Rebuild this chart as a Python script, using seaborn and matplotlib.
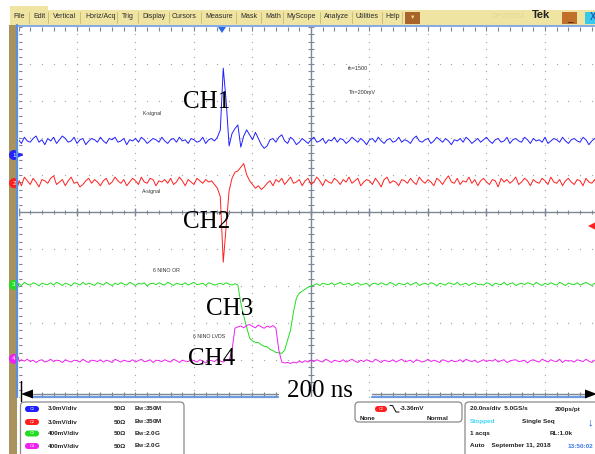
import numpy as np
import matplotlib.pyplot as plt
import seaborn as sns
from matplotlib.patches import Rectangle, FancyBboxPatch, Circle, Polygon

# ==========================================================
# DATA  (one sample per ns)
# ==========================================================
time_ns = list(range(0, 201))

# CH1 K-signal, mV
ch1_mv = [
    0.1, -0.2, 0.3, 0.0, -0.1, 0.2, 0.4, -0.1, 0.1, -0.3,
    0.2, 0.0, 0.3, -0.2, 0.1, 0.4, 0.2, -0.1, 0.0, 0.3,
    -0.2, 0.1, 0.2, -0.3, 0.0, 0.2, 0.1, -0.1, 0.3, 0.0,
    -0.2, 0.2, 0.1, 0.3, -0.1, 0.0, 0.2, -0.3, 0.1, 0.0,
    0.2, -0.1, 0.3, 0.1, -0.2, 0.0, 0.2, 0.1, -0.1, 0.3,
    0.0, -0.2, 0.1, 0.2, -0.1, 0.3, 0.0, 0.1, -0.2, 0.2,
    0.1, -0.1, 0.0, 0.3, -0.2, 0.1, 0.2, 0.0,
    0.3, 0.9, 5.9, 3.2, -0.4, 0.6, 1.0, 1.3, -0.5, 0.4, 0.9, 0.5,
    0.1, 0.7, 0.2, -0.3, -0.6, -0.4, 0.1, 0.2, -0.1, 0.3,
    0.5, 0.0, -0.2, 0.3, 0.1, -0.3, -0.1, 0.2, 0.0, -0.2,
    0.1, 0.3, -0.1, 0.0, 0.2, -0.2, 0.1, 0.0, 0.3, -0.1,
    0.2, 0.1, -0.2, 0.0, 0.3, 0.1, -0.1, 0.2, 0.0, -0.3,
    0.1, 0.2, -0.1, 0.3, 0.0, -0.2, 0.1, 0.2, -0.1, 0.0,
    0.3, -0.1, 0.1, 0.0, -0.2, 0.2, 0.4, 0.0, -0.1, 0.1,
    0.2, -0.2, 0.0, 0.3, 0.1, -0.1, 0.2, 0.0, -0.3, 0.1,
    0.0, 0.2, -0.1, 0.3, 0.1, -0.2, 0.0, 0.2, -0.1, 0.1,
    0.3, 0.0, -0.2, 0.1, 0.2, -0.1, 0.0, 0.3, -0.2, 0.1,
    0.2, 0.0, -0.1, 0.3, 0.1, -0.2, 0.2, 0.0, 0.1, -0.1,
    0.3, -0.2, 0.0, 0.2, 0.1, -0.1, 0.3, 0.0, -0.2, 0.1,
    0.2, 0.0, -0.1, 0.3, 0.1, -0.3, 0.0, 0.2, -0.1, 0.1,
    0.0,
]

# CH2 A-signal, mV
ch2_mv = [
    0.2, -0.3, 0.4, 0.1, -0.2, 0.3, 0.0, -0.4, 0.2, 0.1,
    -0.1, 0.3, 0.5, -0.2, 0.0, 0.2, -0.3, 0.1, 0.4, -0.1,
    0.0, -0.4, -0.2, 0.1, 0.3, -0.1, 0.2, 0.0, -0.3, 0.1,
    0.3, -0.2, 0.0, 0.4, 0.1, -0.1, 0.2, -0.3, 0.0, 0.3,
    0.1, -0.2, 0.4, 0.0, -0.1, 0.3, 0.2, -0.3, 0.1, 0.0,
    0.2, -0.1, 0.3, -0.2, 0.0, 0.4, 0.1, -0.3, 0.2, 0.0,
    -0.2, 0.3, 0.1, -0.1, 0.2, 0.0, 0.1, -0.2,
    -0.5, -1.2, -6.5, -3.6, -0.7, 0.3, 0.8, 0.9, 1.2, 1.5, 0.6, 0.1,
    -0.2, -0.5, -0.3, -0.6, -0.4, -0.1, 0.1, -0.3, 0.2, 0.0,
    0.3, -0.2, 0.1, 0.4, -0.1, 0.0, 0.2, -0.3, 0.1, 0.3,
    -0.2, 0.0, 0.4, 0.1, -0.3, 0.2, 0.0, -0.1, 0.3, 0.1,
    -0.2, 0.2, 0.0, 0.4, -0.1, 0.1, 0.3, -0.3, 0.0, 0.2,
    0.1, -0.2, 0.3, 0.0, -0.4, 0.2, 0.4, -0.1, 0.1, 0.0,
    -0.3, 0.2, 0.1, -0.1, 0.3, 0.0, -0.2, 0.4, 0.1, -0.1,
    0.2, 0.0, -0.3, 0.3, 0.1, -0.2, 0.2, 0.5, 0.0, -0.1,
    0.3, -0.2, 0.1, 0.0, 0.4, -0.1, 0.2, -0.3, 0.1, 0.3,
    0.0, -0.2, 0.2, 0.1, -0.4, 0.3, 0.0, 0.2, -0.1, 0.1,
    0.4, -0.2, 0.0, 0.3, 0.1, -0.3, 0.2, 0.0, -0.1, 0.3,
    0.1, -0.2, 0.4, 0.0, -0.1, 0.2, -0.3, 0.1, 0.3, 0.0,
    -0.2, 0.2, 0.1, -0.3, 0.3, 0.0, -0.1, 0.2, -0.4, 0.1,
    0.0,
]

# CH3 6 NINO OR, mV
ch3_mv = [
    10, -15, 20, 0, -10, 15, 5, -20, 10, 0,
    -5, 15, -10, 20, 5, -15, 10, 0, -20, 15,
    5, -10, 20, -5, 10, 0, -15, 15, 5, -10,
    20, 0, -15, 10, -5, 15, 0, -10, 20, 5,
    -15, 10, 0, 15, -20, 5, 10, -5, 15, 0,
    -10, 20, 5, -15, 10, 0, -5, 15, -10, 5,
    20, -5, 0, 10, -15, 15, 5, -10, 0, 10,
    -5, 15, 0, -10, 5,
    -10, -205, -345, -465, -583, -615, -630, -632, -655, -672,
    -676, -705, -720, -738, -742, -748, -713, -605, -497, -302,
    -151, -97, -76, -54, -32, -22,
    -10, 5, -15, 10, 0, -5, 15, -10, 5,
    20, -5, 0, 10, -15, 5, 15, -10, 0, 10,
    -20, 5, 10, -5, 15, 0, -10, 20, 5, -15,
    10, 0, -5, 15, -10, 5, 20, -15, 0, 10,
    -5, 15, 5, -20, 10, 0, -10, 15, 5, -5,
    20, -10, 0, 10, -15, 5, 15, -5, 0, -10,
    15, 5, -20, 10, 0, -5, 20, -10, 5, 15,
    -15, 0, 10, -5, 15, 5, -10, 20, 0, -15,
    10, -5, 15, 0, -10, 20, 5, -15, 10, 0,
    -5, 15, -10, 5, 20, 0, -15, 10, -5, 15,
    0,
]

# CH4 6 NINO LVDS, mV
ch4_mv = [
    -10, 15, 0, 20, -5, 10, -15, 5, 15, -10,
    0, 20, -5, 10, 5, -15, 15, 0, -10, 10,
    5, -10, 20, 0, -15, 10, 5, -5, 15, -10,
    10, 0, -15, 20, 5, -10, 10, 0, -5, 15,
    -10, 5, 20, -5, 0, 15, -15, 10, 5, -5,
    15, 0, -10, 20, 5, -15, 10, 0, -5, 15,
    5, -10, 15, 0, -20, 10, 5, -5, 20, 0,
    -10, 10, 5,
    120, 356, 370, 380, 360, 385, 395, 375, 360, 390,
    370, 355, 380, 365, 385, 356, 119, -10, -20,
    -15, -25, -10, -20, 0, -15, 5, -10,
    10, -5, 15, 0, -10, 20, 5, -15, 10, 0,
    -5, 15, -10, 5, 20, 0, -15, 10, -5, 15,
    0, -10, 20, 5, -15, 10, 0, -5, 15, -10,
    5, 20, -5, 0, 10, -15, 15, 5, -10, 0,
    20, -5, 10, 0, -15, 15, 5, -10, 10, -5,
    0, 15, -10, 20, 5, -5, 10, -15, 0, 15,
    -5, 10, 0, 20, -10, 5, 15, -15, 0, 10,
    15, -5, 0, 10, -20, 5, 15, 0, -10, 20,
    5, -10, 15, 0, -5, 20, -15, 10, 0, 5,
    -10, 15, 5, -5, 20, 0, -15, 10, 5, -10,
    0,
]

channel_names = ["CH1", "CH2", "CH3", "CH4"]
channel_signals = ["K-signal", "A-signal", "6 NINO OR", "6 NINO LVDS"]
volts_per_div = ["3.0mV/div", "3.0mV/div", "400mV/div", "400mV/div"]
mv_per_div = [3.0, 3.0, 400.0, 400.0]
bandwidth = ["350M", "350M", "2.0G", "2.0G"]
menu_items = ["File", "Edit", "Vertical", "Horiz/Acq", "Trig", "Display", "Cursors",
              "Measure", "Mask", "Math", "MyScope", "Analyze", "Utilities", "Help"]

# ==========================================================
# STYLE / LAYOUT
# ==========================================================
colors = ["#1f1fff", "#ff1f1f", "#22dd22", "#f020f0"]
pos_div = [1.92, 0.81, -1.95, -4.03]          # trace baseline position
marker_div = [1.54, 0.78, -1.97, -3.97]       # ground marker position
label_xy = [(143, 114), (142, 191), (153, 270), (193, 337)]
ch_text_xy = [(183, 108), (183, 228), (206, 315), (188, 365)]
menu_x = [13, 33, 53, 85, 122, 142, 172, 205, 240, 265, 286, 324, 355, 385]
menu_sep = [29, 48, 80, 117, 138, 169, 201, 236, 261, 283, 320, 352, 382, 402]

W, H = 595, 454
PX_NS = 2.925       # pixels per ns
PX_DIV = 37.0       # pixels per vertical div
X0, YTOP, YBOT = 18.5, 27, 397

sns.set_style("white")
plt.rcParams["font.family"] = ["Liberation Sans", "DejaVu Sans"]

fig = plt.figure(figsize=(W / 100, H / 100), dpi=100)

# ----------------------------------------------------------
# graticule axes (x in ns, y in divisions)
# ----------------------------------------------------------
ax = fig.add_axes([X0 / W, (H - YBOT) / H, (W - X0) / W, (YBOT - YTOP) / H])

grid_c = "#a8a8a8"
xs_minor = np.arange(0, 201, 4)
ys_minor = np.arange(-5, 5.01, 0.2)
for k in range(11):
    if k != 5:
        ax.scatter(np.full(len(ys_minor), 20 * k), ys_minor, s=0.9, color=grid_c, linewidths=0)
for k in range(-4, 5):
    if k != 0:
        ax.scatter(xs_minor, np.full(len(xs_minor), k), s=0.9, color=grid_c, linewidths=0)

cross_c = "#7d8796"
ax.axhline(0, color=cross_c, lw=1.0)
ax.axvline(100, color=cross_c, lw=1.0)
ax.vlines(xs_minor, -0.06, 0.06, color=cross_c, lw=0.8)
ax.vlines(xs_minor[::5], -0.1, 0.1, color=cross_c, lw=1.0)
ax.hlines(ys_minor, 100 - 0.9, 100 + 0.9, color=cross_c, lw=0.8)
ax.vlines(xs_minor, 4.9, 5.0, color=cross_c, lw=0.8)
ax.hlines(ys_minor, 0, 1.1, color=cross_c, lw=0.8)

# traces
for mv, scale, pos, col in zip([ch1_mv, ch2_mv, ch3_mv, ch4_mv], mv_per_div, pos_div, colors):
    y = pos + np.array(mv) / scale
    sns.lineplot(x=time_ns, y=y, ax=ax, color=col, linewidth=0.7,
                 estimator=None, sort=False, legend=False)
ax.set_xlim(0, (W - X0) / PX_NS)
ax.set_ylim(-5, 5)
ax.set_axis_off()

# bottom time ruler
ruler_y = (212 - 394) / PX_DIV
for a, b in [(5.0, 88.7), (121.0, 193.7)]:
    ax.plot([a, b], [ruler_y, ruler_y], color="#7f8690", lw=1.0, clip_on=False)
    ax.plot([a, b], [-5.0, -5.0], color="#6c9be0", lw=1.6, clip_on=False)
    ticks = [t for t in xs_minor if a <= t <= b]
    ax.vlines(ticks, ruler_y - 0.05, ruler_y + 0.05, color="#7f8690", lw=0.8, clip_on=False)

# ----------------------------------------------------------
# overlay in pixel coordinates
# ----------------------------------------------------------
ov = fig.add_axes([0, 0, 1, 1], zorder=5)
ov.set_xlim(0, W)
ov.set_ylim(H, 0)
ov.set_axis_off()
ov.patch.set_alpha(0)

# menu bar
ov.add_patch(Rectangle((10, 10), W - 10, 15, color="#efe4a2", lw=0))
ov.add_patch(Rectangle((10, 6), 38, 5, color="#efe4a2", lw=0))
for sx in menu_sep:
    ov.plot([sx, sx], [12, 23], color="#c9b86c", lw=0.6)
for mx, name in zip(menu_x, menu_items):
    ov.text(mx, 16, name, fontsize=5, color="#2a2a2a", va="center", ha="left")
ov.add_patch(Rectangle((405, 11.5), 15, 12, color="#a8642a", lw=0))
ov.text(412.5, 17, "▼", fontsize=4, color="#f4e080", ha="center", va="center")
ov.text(508, 16, "DPO5204", fontsize=5.5, color="#e6d896", ha="center", va="center")
ov.text(541, 15.5, "Tek", fontsize=8, fontweight="bold", color="#222", ha="center", va="center")
ov.add_patch(Rectangle((562, 11.5), 15, 12, color="#c0702a", lw=0))
ov.text(569.5, 18, "_", fontsize=7, color="#222", ha="center", va="center")
ov.add_patch(Rectangle((585, 11.5), 12, 12, color="#38c8ea", lw=0))
ov.text(590, 17, "X", fontsize=7, color="#1a3a9a", ha="left", va="center")
ov.plot([16, W], [25.5, 25.5], color="#6c9be0", lw=1.2)

# left frame
ov.add_patch(Rectangle((9, 25), 7.5, H - 25, color="#a8925e", lw=0))
ov.plot([17.3, 17.3], [25, YBOT], color="#5a8fe0", lw=1.6)

# channel ground markers
for i, (md, col) in enumerate(zip(marker_div, colors)):
    py = 212 - md * PX_DIV
    ov.add_patch(Circle((14, py), 5, color=col, lw=0))
    ov.text(14, py, str(i + 1), fontsize=4.5, color="white", ha="center", va="center")
ov.annotate("", xy=(26, 155), xytext=(19, 155),
            arrowprops=dict(arrowstyle="-|>", color=colors[0], lw=0.8, mutation_scale=5))

# trigger markers
ov.add_patch(Polygon([(218, 27), (226, 27), (222, 33)], color="#2a6ae8", lw=0))
ov.add_patch(Polygon([(588, 226), (596, 222), (596, 230)], color="#ff2020", lw=0))

# signal names and notes
for (lx, ly), txt in zip(label_xy, channel_signals):
    ov.text(lx, ly, txt, fontsize=3.8, color="#333", ha="left", va="center")
ov.text(348, 69, "th=1500", fontsize=4, color="#333", ha="left", va="center")
ov.text(349, 93, "Th=200mV", fontsize=4, color="#333", ha="left", va="center")

# big CH labels
for (cx, cy), name in zip(ch_text_xy, channel_names):
    ov.text(cx, cy, name, fontsize=18, family="Liberation Serif", color="black",
            ha="left", va="baseline")

# time span arrow
ov.plot([21, 21], [381, 401], color="black", lw=1.0)
ov.add_patch(Polygon([(21, 394), (33, 389.5), (33, 398.5)], color="black", lw=0))
ov.add_patch(Polygon([(W + 2, 394), (585, 389.5), (585, 398.5)], color="black", lw=0))
ov.text(287, 397, "200 ns", fontsize=18, family="Liberation Serif", color="black",
        ha="left", va="baseline")

# ----------------------------------------------------------
# bottom readouts
# ----------------------------------------------------------
box_kw = dict(boxstyle="round,pad=0,rounding_size=4", facecolor="white", edgecolor="#8a8a8a", lw=0.9)
ov.add_patch(FancyBboxPatch((20.5, 402), 163.5, 70, **box_kw))
rows_y = [409, 422, 433.5, 446]
for i, ry in enumerate(rows_y):
    ov.add_patch(FancyBboxPatch((25, ry - 3), 14, 6, boxstyle="round,pad=0,rounding_size=3",
                                facecolor=colors[i], edgecolor="none"))
    ov.text(32, ry, "C%d" % (i + 1), fontsize=2.8, color="white", ha="center", va="center")
    ov.text(48, ry, volts_per_div[i], fontsize=4.6, fontweight="bold", color="#222", va="center")
    ov.text(114, ry, "50Ω", fontsize=4.6, fontweight="bold", color="#222", va="center")
    ov.text(134, ry, "B$_\\mathregular{W}$:" + bandwidth[i], fontsize=4.6, fontweight="bold",
            color="#222", va="center")

ov.add_patch(FancyBboxPatch((355, 402), 107, 20, **box_kw))
ov.add_patch(FancyBboxPatch((375, 406), 12, 6, boxstyle="round,pad=0,rounding_size=3",
                            facecolor=colors[1], edgecolor="none"))
ov.text(381, 409, "C2", fontsize=2.8, color="white", ha="center", va="center")
ov.plot([390, 392.5, 396, 399], [405.5, 405.5, 412, 412], color="#222", lw=0.8)
ov.text(400, 409, "-3.36mV", fontsize=4.6, fontweight="bold", color="#222", va="center")
ov.text(360, 419, "None", fontsize=4.6, fontweight="bold", color="#222", va="center")
ov.text(427, 419, "Normal", fontsize=4.6, fontweight="bold", color="#222", va="center")

ov.add_patch(FancyBboxPatch((465, 402), 160, 70, **box_kw))
ov.text(470, 409, "20.0ns/div  5.0GS/s", fontsize=4.6, fontweight="bold", color="#222", va="center")
ov.text(555, 409, "200ps/pt", fontsize=4.6, fontweight="bold", color="#222", va="center")
ov.text(470, 422, "Stopped", fontsize=4.6, fontweight="bold", color="#3cd4f4", va="center")
ov.text(522, 422, "Single Seq", fontsize=4.6, fontweight="bold", color="#222", va="center")
ov.text(590, 422, "↓", fontsize=8, fontweight="bold", color="#2050e0", ha="center", va="center")
ov.text(470, 433.5, "1 acqs", fontsize=4.6, fontweight="bold", color="#222", va="center")
ov.text(550, 433.5, "RL:1.0k", fontsize=4.6, fontweight="bold", color="#222", va="center")
ov.text(470, 446, "Auto    September 11, 2018", fontsize=4.6, fontweight="bold", color="#222", va="center")
ov.text(568, 446, "13:50:02", fontsize=4.6, fontweight="bold", color="#3a7ae8", va="center")

fig.savefig("out.png", dpi=100)
